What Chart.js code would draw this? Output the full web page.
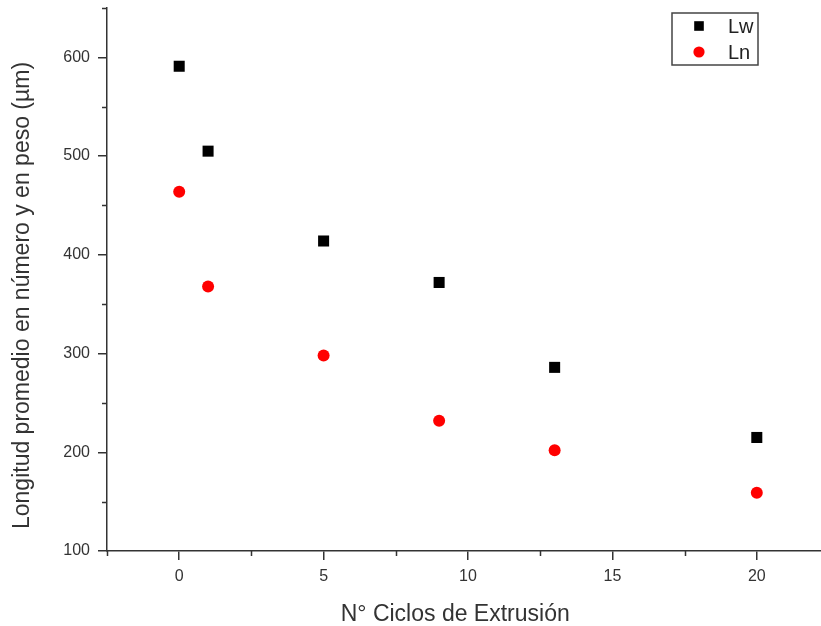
<!DOCTYPE html>
<html lang="es">
<head>
<meta charset="UTF-8">
<title>Longitud promedio vs ciclos de extrusión</title>
<script src="https://cdn.jsdelivr.net/npm/chart.js"></script>
<style>
  html, body { margin: 0; padding: 0; background: #fff; overflow: hidden; }
</style>
</head>
<body>
<canvas id="grafico" width="840" height="626"></canvas>
<script>
    // ciclos de extrusión y longitudes promedio (µm)
    const ciclos = [0, 1, 5, 9, 13, 20];
    const lw = [591, 505, 414, 372, 286, 215];
    const ln = [464, 368, 298, 232, 202, 159];

    const xTicks = [0, 5, 10, 15, 20];
    const yTicks = [100, 200, 300, 400, 500, 600];
    const xMinor = [-2.5, 2.5, 7.5, 12.5, 17.5, 22.5];
    const yMinor = [150, 250, 350, 450, 550, 650];

    const ejeColor = '#333';
    const fuente = 'Liberation Sans, Arial, sans-serif';

    function puntos(ys) {
        return ciclos.map(function (c, i) { return { x: c, y: ys[i] }; });
    }

    // marcas menores de los ejes (más cortas que las mayores)
    const marcasMenores = {
        id: 'marcasMenores',
        afterDraw(chart) {
            const ctx = chart.ctx;
            const x = chart.scales.x, y = chart.scales.y;
            ctx.save();
            ctx.strokeStyle = ejeColor;
            ctx.lineWidth = 1.5;
            ctx.beginPath();
            xMinor.forEach(function (v) {
                const px = Math.round(x.getPixelForValue(v)) + 0.5;
                ctx.moveTo(px, x.top);
                ctx.lineTo(px, x.top + 5);
            });
            yMinor.forEach(function (v) {
                const py = Math.round(y.getPixelForValue(v)) + 0.5;
                ctx.moveTo(y.right, py);
                ctx.lineTo(y.right - 5, py);
            });
            ctx.stroke();
            ctx.restore();
        }
    };

    // leyenda con recuadro dentro del área del gráfico
    const leyendaCaja = {
        id: 'leyendaCaja',
        afterDraw(chart) {
            const ctx = chart.ctx;
            const bx = 672, by = 13, bw = 86, bh = 52;
            ctx.save();
            ctx.fillStyle = '#fff';
            ctx.fillRect(bx, by, bw, bh);
            ctx.strokeStyle = '#444';
            ctx.lineWidth = 1.5;
            ctx.strokeRect(bx, by, bw, bh);
            ctx.font = '20px ' + fuente;
            ctx.textBaseline = 'middle';
            chart.data.datasets.forEach(function (ds, i) {
                const cy = by + 13 + i * 26;
                ctx.fillStyle = ds.backgroundColor;
                Chart.helpers.drawPoint(ctx, {
                    pointStyle: ds.pointStyle,
                    radius: ds.pointStyle === 'rect' ? 6.8 : 5.6,
                    rotation: 0,
                    borderWidth: 0
                }, 699, cy);
                ctx.fillStyle = '#222';
                ctx.fillText(ds.label, 728, cy + 1);
            });
            ctx.restore();
        }
    };

    new Chart(document.getElementById('grafico'), {
        type: 'scatter',
        data: {
            datasets: [{
                label: 'Lw',
                data: puntos(lw),
                pointStyle: 'rect',
                pointRadius: 7.8,
                pointHoverRadius: 7.8,
                pointBorderWidth: 0,
                backgroundColor: '#000',
                borderColor: '#000'
            }, {
                label: 'Ln',
                data: puntos(ln),
                pointStyle: 'circle',
                pointRadius: 6,
                pointHoverRadius: 6,
                pointBorderWidth: 0,
                backgroundColor: '#ff0000',
                borderColor: '#ff0000'
            }]
        },
        options: {
            responsive: false,
            animation: false,
            layout: { padding: { top: 8, right: 11, left: 4, bottom: 0 } },
            plugins: {
                legend: { display: false },
                tooltip: { enabled: false }
            },
            scales: {
                x: {
                    type: 'linear',
                    min: -2.5,
                    max: 22.5,
                    afterBuildTicks: function (s) { s.ticks = xTicks.map(function (v) { return { value: v }; }); },
                    afterFit: function (s) { s.height = 75; s.paddingLeft = 0; s.paddingRight = 0; },
                    border: { display: true, color: ejeColor, width: 1.5 },
                    grid: { drawOnChartArea: false, drawTicks: true, tickLength: 9, color: ejeColor, lineWidth: 1.5 },
                    ticks: { color: ejeColor, padding: 7, font: { family: fuente, size: 16 } },
                    title: {
                        display: true,
                        text: 'N° Ciclos de Extrusión    ',
                        color: ejeColor,
                        padding: { top: 0, bottom: -2 },
                        font: { family: fuente, size: 23 }
                    }
                },
                y: {
                    type: 'linear',
                    min: 100,
                    max: 650,
                    afterBuildTicks: function (s) { s.ticks = yTicks.map(function (v) { return { value: v }; }); },
                    afterFit: function (s) { s.width = 103; s.paddingTop = 0; s.paddingBottom = 0; },
                    border: { display: true, color: ejeColor, width: 1.5 },
                    grid: { drawOnChartArea: false, drawTicks: true, tickLength: 9, color: ejeColor, lineWidth: 1.5 },
                    ticks: { color: ejeColor, padding: 8, font: { family: fuente, size: 16 } },
                    title: {
                        display: true,
                        text: 'Longitud promedio en número y en peso (µm)     ',
                        color: ejeColor,
                        padding: { top: 5, bottom: 0 },
                        font: { family: fuente, size: 23 }
                    }
                }
            }
        },
        plugins: [marcasMenores, leyendaCaja]
    });
</script>
</body>
</html>
